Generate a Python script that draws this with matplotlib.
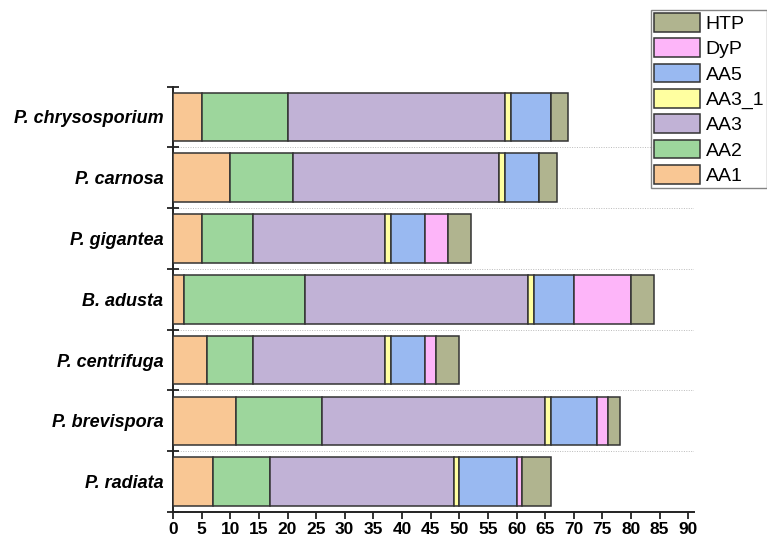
import matplotlib
matplotlib.use("Agg")
import matplotlib.pyplot as plt
import numpy as np

# Species, listed bottom to top
species = ["P. radiata", "P. brevispora", "P. centrifuga", "B. adusta",
           "P. gigantea", "P. carnosa", "P. chrysosporium"]

# Gene counts per family (same order as species)
AA1 = [7, 11, 6, 2, 5, 10, 5]
AA2 = [10, 15, 8, 21, 9, 11, 15]
AA3 = [32, 39, 23, 39, 23, 36, 38]
AA3_1 = [1, 1, 1, 1, 1, 1, 1]
AA5 = [10, 8, 6, 7, 6, 6, 7]
DyP = [1, 2, 2, 10, 4, 0, 0]
HTP = [5, 2, 4, 4, 4, 3, 3]

families = ["AA1", "AA2", "AA3", "AA3_1", "AA5", "DyP", "HTP"]
series = [AA1, AA2, AA3, AA3_1, AA5, DyP, HTP]
colors = ["#F9C794", "#9DD69C", "#C1B2D6", "#FFFFA0", "#99B9F1", "#FDB5F9", "#B0B48F"]

plt.rcParams["font.family"] = ["Liberation Sans", "DejaVu Sans"]

fig = plt.figure(figsize=(7.67, 5.41), dpi=100)
ax = fig.add_axes([173 / 767, 1 - 512 / 541, (694 - 173) / 767, (512 - 86.5) / 541])

y = np.arange(len(species))
left = np.zeros(len(species))
handles = []
for name, vals, col in zip(families, series, colors):
    vals = np.array(vals, dtype=float)
    bars = ax.barh(y, vals, left=left, height=0.8, color=col,
                   edgecolor="#333333", linewidth=1.1, label=name, zorder=3)
    handles.append(bars)
    left += vals

ax.set_xlim(0, 91)
ax.set_ylim(-0.5, len(species) - 0.5)

# Dotted separators between species rows
for b in np.arange(0.5, len(species) - 0.5, 1.0):
    ax.axhline(b, color="#BBBBBB", linestyle=(0, (1, 1.5)), linewidth=0.7, zorder=1)

ax.set_xticks(np.arange(0, 91, 5))
ax.tick_params(axis="x", direction="out", length=5, width=1.3, colors="#222222",
               labelsize=12.5, pad=2)
for lbl in ax.get_xticklabels():
    lbl.set_fontweight("bold")
    lbl.set_color("black")

ax.set_yticks(np.arange(-0.5, len(species), 1.0))
ax.set_yticklabels([])
ax.set_yticks(y, minor=True)
ax.set_yticklabels(species, minor=True, fontsize=13, fontweight="bold",
                   fontstyle="italic")
ax.tick_params(axis="y", which="major", direction="inout", length=8, width=1.3,
               colors="#222222")
ax.tick_params(axis="y", which="minor", length=0, pad=7)

for side in ("top", "right"):
    ax.spines[side].set_visible(False)
for side in ("left", "bottom"):
    ax.spines[side].set_linewidth(1.4)
    ax.spines[side].set_color("#222222")

leg = fig.legend(handles[::-1], families[::-1], loc="upper left",
                 bbox_to_anchor=(651 / 767, 1 - 10 / 541),
                 fontsize=14, frameon=True, fancybox=False,
                 handlelength=2.35, handleheight=1.11, labelspacing=0.27,
                 handletextpad=0.3, borderpad=0.16, borderaxespad=0)
leg.get_frame().set_edgecolor("#666666")
leg.get_frame().set_linewidth(1.0)

fig.savefig("out.png", dpi=100)
